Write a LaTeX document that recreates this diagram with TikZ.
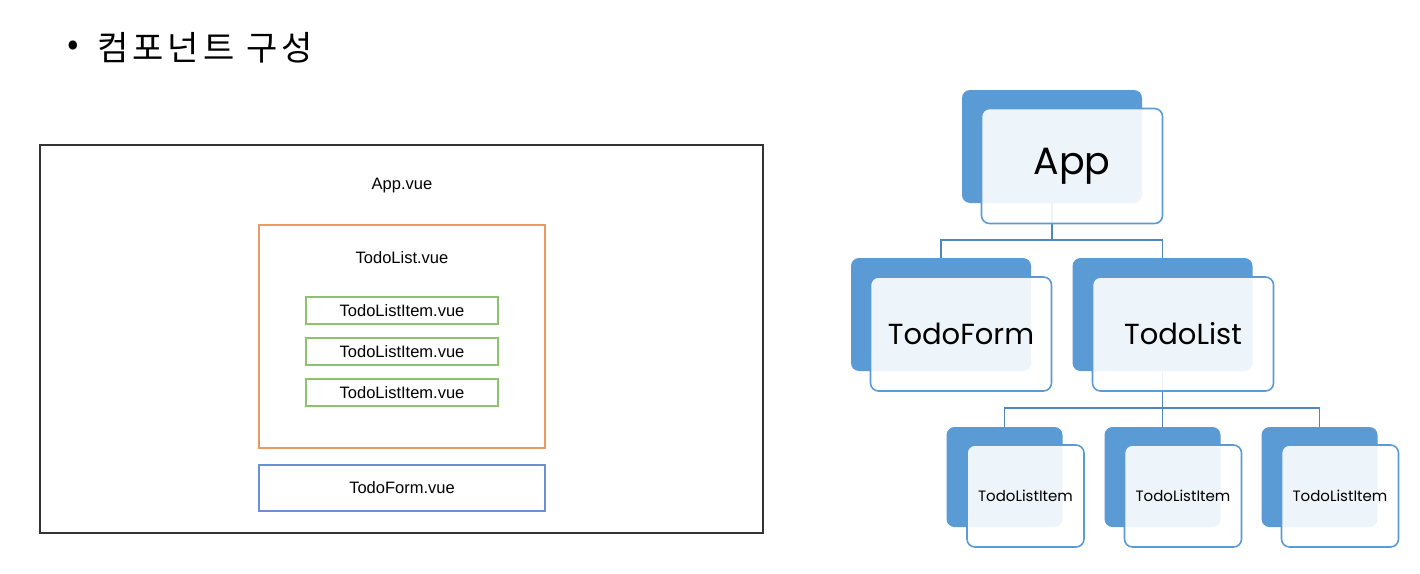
\documentclass[tikz,border=0pt]{standalone}
\usepackage{fontspec}
\setmainfont{Liberation Sans}
\newfontfamily\krfont{Noto Sans CJK KR}
\newfontfamily\krwide[LetterSpace=12]{Noto Sans CJK KR}
\newfontfamily\popfont{Poppins}
\definecolor{bblue}{HTML}{5B9BD5}
\definecolor{cblue}{HTML}{4F86C0}
\definecolor{oframe}{HTML}{EE9A5E}
\definecolor{gframe}{HTML}{8FC26E}
\definecolor{lblue}{HTML}{6C8FD6}
\definecolor{dframe}{HTML}{333333}
\begin{document}
\begin{tikzpicture}[x=1pt,y=-1pt,
  backbox/.style={fill=bblue, rounded corners=8pt, inner sep=0pt},
  frontbox/.style={fill=white, fill opacity=0.9, text opacity=1, draw=bblue, line width=1.6pt, rounded corners=8pt, inner sep=0pt, font=\popfont},
  conn/.style={draw=cblue, line width=1.5pt},
  vuebox/.style={line width=1.8pt, inner sep=0pt},
  vuelabel/.style={font=\fontsize{16.5}{18}\selectfont, inner sep=0pt}
]
\useasboundingbox (0,0) rectangle (1420,573);

% header
\node[font=\krfont\fontsize{34}{40}\selectfont, inner sep=0pt] (bul) at (73,48) {•};
\node[font=\krwide\fontsize{34}{40}\selectfont, anchor=west, inner sep=0pt] (title) at (97,48) {컴포넌트 구성};

% left diagram
\node[vuebox, draw=dframe, minimum width=723, minimum height=388] (appv) at (401.5,339) {};
\node[vuelabel] (appvl) at (402,186) {App.vue};
\node[vuebox, draw=oframe, minimum width=286, minimum height=223] (listv) at (402,336.5) {};
\node[vuelabel] (listvl) at (402,258) {TodoList.vue};
\node[vuebox, draw=gframe, minimum width=192, minimum height=27] (item1v) at (402,310.5) {};
\node[vuelabel] at (item1v) {TodoListItem.vue};
\node[vuebox, draw=gframe, minimum width=192, minimum height=27] (item2v) at (402,351.5) {};
\node[vuelabel] at (item2v) {TodoListItem.vue};
\node[vuebox, draw=gframe, minimum width=192, minimum height=27] (item3v) at (402,392.5) {};
\node[vuelabel] at (item3v) {TodoListItem.vue};
\node[vuebox, draw=lblue, minimum width=286, minimum height=46] (formv) at (402,488) {};
\node[vuelabel] at (formv) {TodoForm.vue};

% right tree: back boxes
\node[backbox, minimum width=180, minimum height=113] (appB) at (1052,146.5) {};
\node[backbox, minimum width=180, minimum height=113] (formB) at (941,314.5) {};
\node[backbox, minimum width=180, minimum height=113] (listB) at (1162.5,314.5) {};
\node[backbox, minimum width=116, minimum height=100] (i1B) at (1004.5,477) {};
\node[backbox, minimum width=116, minimum height=100] (i2B) at (1162.5,477) {};
\node[backbox, minimum width=116, minimum height=100] (i3B) at (1319.5,477) {};

% connectors
\coordinate (j1) at (1052,240);
\coordinate (j2) at (1162.5,408);
\draw[conn] (appB.south) -- (j1);
\draw[conn] (formB.north) |- (j1) -| (listB.north);
\draw[conn] (listB.south) -- (j2);
\draw[conn] (i1B.north) |- (j2) -| (i3B.north);
\draw[conn] (j2) -- (i2B.north);

% front boxes
\node[frontbox, minimum width=181, minimum height=115, font=\popfont\fontsize{38}{44}\selectfont] (appF) at (1072,166) {App};
\node[frontbox, minimum width=181, minimum height=114, font=\popfont\fontsize{29}{34}\selectfont] (formF) at (961,334) {TodoForm};
\node[frontbox, minimum width=181, minimum height=114, font=\popfont\fontsize{29}{34}\selectfont] (listF) at (1183,334) {TodoList};
\node[frontbox, minimum width=117, minimum height=102, font=\popfont\fontsize{15}{18}\selectfont] (i1F) at (1025.5,496) {TodoListItem};
\node[frontbox, minimum width=117, minimum height=102, font=\popfont\fontsize{15}{18}\selectfont] (i2F) at (1183,496) {TodoListItem};
\node[frontbox, minimum width=117, minimum height=102, font=\popfont\fontsize{15}{18}\selectfont] (i3F) at (1340,496) {TodoListItem};
\end{tikzpicture}
\end{document}
